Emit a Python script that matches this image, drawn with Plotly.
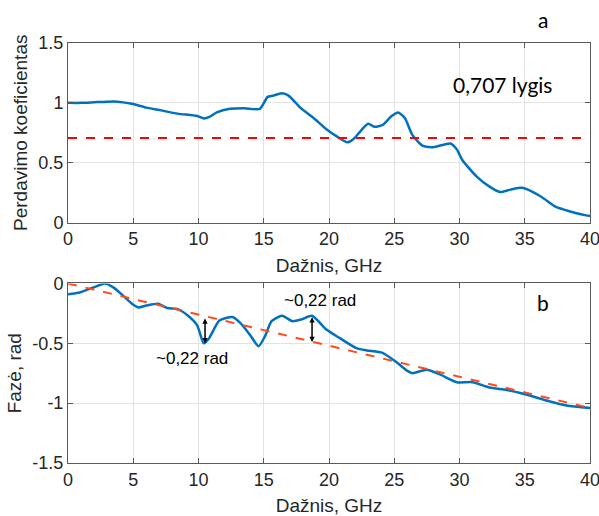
import plotly.graph_objects as go
from plotly.subplots import make_subplots

# perdavimo koeficientas (a)
freq_a = [0, 1, 2, 3, 3.8, 5, 6, 7, 8.4, 9.9, 10.4, 10.8, 11.4, 12.4, 13.5, 14.7,
          15.3, 15.7, 16.4, 16.9, 17.8, 18.8, 19.8, 20.6, 21.4, 21.9, 22.5, 23,
          23.5, 24.1, 24.8, 25.3, 25.8, 26.4, 27.2, 28, 29.3, 29.8, 30.2, 31.3,
          32.3, 33.1, 33.9, 34.8, 36.2, 37.4, 38.4, 39.7, 40]
gain_a = [1.0, 1.0, 1.005, 1.01, 1.01, 0.99, 0.96, 0.94, 0.91, 0.89, 0.87, 0.88,
          0.92, 0.95, 0.955, 0.95, 1.05, 1.06, 1.08, 1.06, 0.96, 0.875, 0.78,
          0.72, 0.67, 0.70, 0.775, 0.825, 0.80, 0.815, 0.89, 0.92, 0.875, 0.73,
          0.64, 0.63, 0.66, 0.61, 0.525, 0.386, 0.30, 0.255, 0.275, 0.29, 0.22,
          0.13, 0.095, 0.06, 0.055]
level_x = [0, 40]
level_y = [0.707, 0.707]

# faze (b)
freq_b = [0, 0.9, 1.9, 2.85, 3.5, 4.2, 4.9, 5.4, 6, 6.9, 7.6, 8.4, 9.2, 9.9, 10.4,
          10.8, 11.6, 12.6, 13.2, 13.95, 14.6, 15.1, 15.6, 16.4, 17.2, 17.9, 18.7,
          19.8, 20.8, 22.1, 22.9, 24.1, 25.2, 26, 26.4, 27.5, 28.5, 29.8, 31, 32.3,
          33.6, 34.8, 36.9, 38.2, 40]
phase_b = [-0.09, -0.075, -0.035, 0.0, -0.035, -0.1, -0.17, -0.2, -0.185, -0.17,
           -0.205, -0.215, -0.27, -0.35, -0.5, -0.46, -0.31, -0.28, -0.33, -0.43,
           -0.525, -0.44, -0.315, -0.27, -0.315, -0.30, -0.27, -0.385, -0.455,
           -0.54, -0.56, -0.58, -0.66, -0.73, -0.75, -0.72, -0.76, -0.825, -0.825,
           -0.87, -0.89, -0.92, -0.985, -1.02, -1.04]
lin_x = [0, 40]
lin_y = [0, -1.04]

# rodykles ~0,22 rad
arrow_x = [10.5, 18.7]
arrow_top = [-0.28, -0.27]
arrow_bot = [-0.5, -0.49]

x_ticks = [0, 5, 10, 15, 20, 25, 30, 35, 40]

blue = "#0072BD"
font_main = "Liberation Sans, Arial, sans-serif"
font_note = "Lato, sans-serif"

fig = make_subplots(rows=2, cols=1, vertical_spacing=0.145)

fig.add_trace(go.Scatter(x=freq_a, y=gain_a, mode="lines", line=dict(color=blue, width=2.5, shape="spline", smoothing=0.6)), row=1, col=1)
fig.add_trace(go.Scatter(x=level_x, y=level_y, mode="lines", line=dict(color="#FF0000", width=2, dash="dash")), row=1, col=1)
fig.add_trace(go.Scatter(x=freq_b, y=phase_b, mode="lines", line=dict(color=blue, width=2.5, shape="spline", smoothing=0.6)), row=2, col=1)
fig.add_trace(go.Scatter(x=lin_x, y=lin_y, mode="lines", line=dict(color="#FF4A1C", width=2, dash="dash")), row=2, col=1)

for ax, at, ab in zip(arrow_x, arrow_top, arrow_bot):
    fig.add_annotation(x=ax, y=ab, ax=ax, ay=at, xref="x2", yref="y2", axref="x2", ayref="y2",
                       text="", showarrow=True, arrowhead=2, arrowside="end+start",
                       arrowsize=0.7, arrowwidth=1.5, arrowcolor="black")

fig.add_annotation(x=9.5, y=-0.63, xref="x2", yref="y2", text="~0,22 rad", showarrow=False,
                   font=dict(size=17, color="black", family=font_main))
fig.add_annotation(x=19.3, y=-0.14, xref="x2", yref="y2", text="~0,22 rad", showarrow=False,
                   font=dict(size=17, color="black", family=font_main))
fig.add_annotation(x=33.3, y=1.15, xref="x", yref="y", text="0,707 lygis", showarrow=False,
                   font=dict(size=21, color="black", family=font_note))
fig.add_annotation(x=36.4, y=1.055, xref="x", yref="paper", yanchor="middle", text="a", showarrow=False,
                   font=dict(size=21, color="black", family=font_note))
fig.add_annotation(x=36.4, y=-0.16, xref="x2", yref="y2", text="b", showarrow=False,
                   font=dict(size=21, color="black", family=font_note))

tick_font = dict(size=18, color="#262626", family=font_main)
title_font = dict(size=19, color="#262626", family=font_main)
axis_style = dict(showline=True, mirror="ticks", linecolor="#5A5A5A", linewidth=1,
                  ticks="inside", ticklen=5, tickcolor="#5A5A5A",
                  showgrid=True, gridcolor="#E3E3E3", zeroline=False,
                  tickfont=tick_font, automargin=False)

fig.update_xaxes(axis_style, range=[0, 40], tickvals=x_ticks, ticklabeloverflow="allow",
                 title=dict(text="Dažnis, GHz", standoff=10, font=title_font))
fig.update_yaxes(axis_style)
fig.update_yaxes(range=[0, 1.5], tickvals=[0, 0.5, 1, 1.5], ticktext=["0", "0.5", "1", "1.5"],
                 title=dict(text="Perdavimo koeficientas", standoff=5, font=title_font), row=1, col=1)
fig.update_yaxes(range=[-1.5, 0], tickvals=[-1.5, -1, -0.5, 0], ticktext=["-1.5", "-1", "-0.5", "0"],
                 title=dict(text="Fazė, rad", standoff=5, font=title_font), row=2, col=1)

fig.update_layout(width=599, height=516, showlegend=False,
                  plot_bgcolor="white", paper_bgcolor="white",
                  margin=dict(l=68, r=9, t=43, b=53))

# drop the default body margin so the figure fills the window exactly
fig.write_html("out.html", config={"displayModeBar": False},
               post_script="document.body.style.margin='0';document.body.style.overflow='hidden';")
